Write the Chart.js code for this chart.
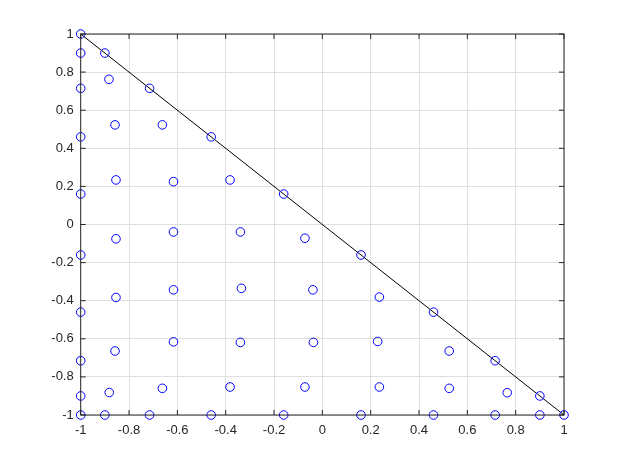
<!DOCTYPE html>
<html>
<head>
<meta charset="utf-8">
<script src="https://cdn.jsdelivr.net/npm/chart.js@4"></script>
<style>
html,body{margin:0;padding:0;background:#fff;}
#wrap{width:623px;height:467px;}
</style>
</head>
<body>
<div id="wrap"><canvas id="c" width="623" height="467"></canvas></div>
<script>
// Node coordinates
const nodeX = [
  -1,
  -1, -0.9,
  -1, -0.883, -0.715,
  -1, -0.858, -0.662, -0.46,
  -1, -0.854, -0.616, -0.382, -0.16,
  -1, -0.854, -0.616, -0.339, -0.072, 0.16,
  -1, -0.854, -0.616, -0.335, -0.039, 0.236, 0.46,
  -1, -0.858, -0.616, -0.339, -0.037, 0.229, 0.525, 0.715,
  -1, -0.882, -0.662, -0.382, -0.072, 0.236, 0.525, 0.765, 0.9,
  -1, -0.9, -0.715, -0.46, -0.16, 0.16, 0.46, 0.715, 0.9, 1
];
const nodeY = [
  1,
  0.9, 0.9,
  0.715, 0.762, 0.715,
  0.46, 0.523, 0.523, 0.46,
  0.16, 0.234, 0.225, 0.234, 0.16,
  -0.16, -0.075, -0.039, -0.039, -0.072, -0.16,
  -0.46, -0.383, -0.343, -0.335, -0.343, -0.381, -0.46,
  -0.715, -0.664, -0.616, -0.619, -0.619, -0.614, -0.664, -0.715,
  -0.9, -0.882, -0.86, -0.853, -0.853, -0.853, -0.86, -0.883, -0.9,
  -1, -1, -1, -1, -1, -1, -1, -1, -1, -1
];
const lineX = [-1, 1];
const lineY = [1, -1];
const tickValues = [-1, -0.8, -0.6, -0.4, -0.2, 0, 0.2, 0.4, 0.6, 0.8, 1];

const nodes = nodeX.map((x, i) => ({x: x, y: nodeY[i]}));
const linePts = lineX.map((x, i) => ({x: x, y: lineY[i]}));

const axisColor = '#262626';
const gridColor = '#dfdfdf';

const boxPlugin = {
  id: 'box',
  afterDraw(chart) {
    const ctx = chart.ctx;
    const a = chart.chartArea;
    const xs = chart.scales.x, ys = chart.scales.y;
    ctx.save();
    ctx.strokeStyle = axisColor;
    ctx.lineWidth = 1;
    ctx.beginPath();
    const tl = 5;
    tickValues.forEach(v => {
      const px = xs.getPixelForValue(v);
      ctx.moveTo(px, a.bottom); ctx.lineTo(px, a.bottom - tl);
      ctx.moveTo(px, a.top); ctx.lineTo(px, a.top + tl);
      const py = ys.getPixelForValue(v);
      ctx.moveTo(a.left, py); ctx.lineTo(a.left + tl, py);
      ctx.moveTo(a.right, py); ctx.lineTo(a.right - tl, py);
    });
    ctx.stroke();
    ctx.strokeRect(a.left, a.top, a.right - a.left, a.bottom - a.top);
    ctx.restore();
  }
};

new Chart(document.getElementById('c'), {
  type: 'scatter',
  data: {
    datasets: [
      {
        data: nodes,
        showLine: false,
        clip: false,
        pointStyle: 'circle',
        pointRadius: 4.3,
        pointBorderWidth: 1,
        borderColor: '#0000ff',
        backgroundColor: 'rgba(0,0,0,0)',
        pointBackgroundColor: 'rgba(0,0,0,0)',
        pointBorderColor: '#0000ff'
      },
      {
        data: linePts,
        showLine: true,
        clip: false,
        borderColor: '#000000',
        borderWidth: 1,
        pointRadius: 0,
        fill: false
      }
    ]
  },
  options: {
    responsive: false,
    animation: false,
    devicePixelRatio: 1,
    layout: {padding: {top: 34, right: 59, left: 0, bottom: 0}},
    plugins: {legend: {display: false}, tooltip: {enabled: false}},
    scales: {
      x: {
        type: 'linear', min: -1, max: 1,
        afterBuildTicks(s) { s.ticks = tickValues.map(v => ({value: v})); },
        afterFit(s) { s.height = 52; },
        grid: {color: gridColor, drawTicks: false, lineWidth: 1},
        border: {display: false},
        ticks: {
          color: axisColor, padding: 8,
          font: {family: 'Liberation Sans', size: 13},
          callback: v => String(Math.round(v * 10) / 10),
          maxRotation: 0, autoSkip: false
        }
      },
      y: {
        type: 'linear', min: -1, max: 1,
        afterBuildTicks(s) { s.ticks = tickValues.map(v => ({value: v})); },
        afterFit(s) { s.width = 80.7; },
        grid: {color: gridColor, drawTicks: false, lineWidth: 1},
        border: {display: false},
        ticks: {
          color: axisColor, padding: 7,
          font: {family: 'Liberation Sans', size: 13},
          callback: v => String(Math.round(v * 10) / 10),
          autoSkip: false
        }
      }
    }
  },
  plugins: [boxPlugin]
});
</script>
</body>
</html>
